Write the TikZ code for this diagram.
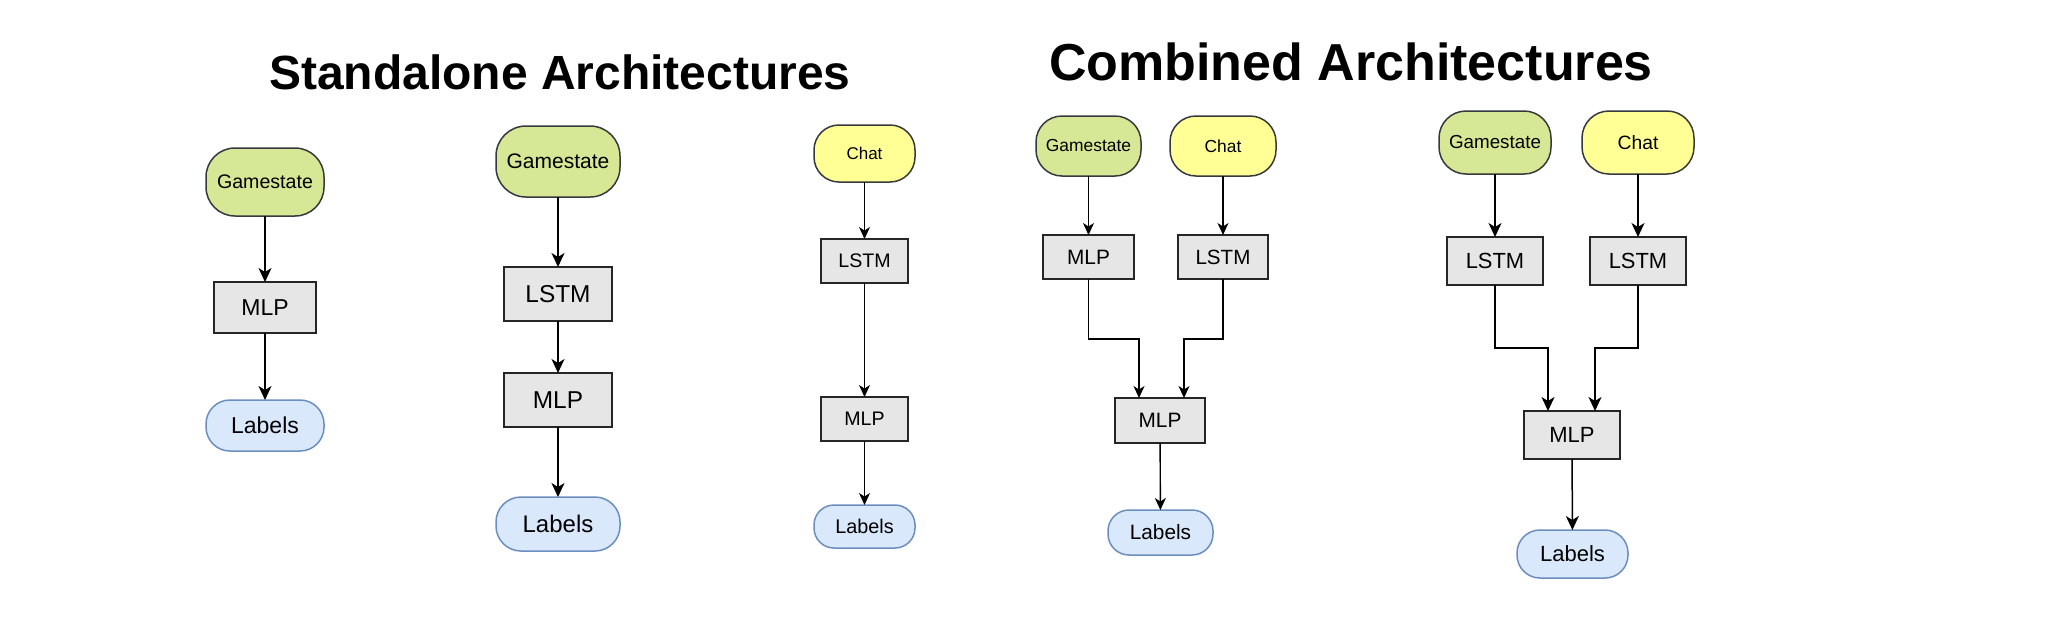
\documentclass[tikz,border=0pt]{standalone}
\usepackage{fontspec}
\setmainfont{Liberation Sans}
\usetikzlibrary{arrows.meta}
\definecolor{gsfill}{RGB}{214,232,150}
\definecolor{chfill}{RGB}{255,255,150}
\definecolor{lbfill}{RGB}{218,232,252}
\definecolor{lbdraw}{RGB}{108,142,191}
\definecolor{bxfill}{RGB}{230,230,230}
\definecolor{dkdraw}{RGB}{54,57,61}
\newcommand\myfs[1]{\fontsize{#1}{#1}\selectfont}
\tikzset{
  base/.style={inner sep=0pt, outer sep=0pt, line width=1.5pt, align=center, text=black},
  gsbox/.style={base, fill=gsfill, draw=dkdraw},
  chbox/.style={base, fill=chfill, draw=dkdraw},
  lbbox/.style={base, fill=lbfill, draw=lbdraw},
  bxbox/.style={base, fill=bxfill, draw=black!85},
  arrL/.style={line width=1.5pt, -{Stealth[length=14pt,width=13pt,inset=4pt]}},
  arrS/.style={line width=1.4pt, -{Stealth[length=12pt,width=11pt,inset=3.5pt]}},
  ttl/.style={inner sep=0pt, anchor=base, font=\bfseries}
}
\begin{document}
\begin{tikzpicture}[x=1pt,y=-1pt]
\useasboundingbox (0,0) rectangle (2064,630);
\fill[white] (0,0) rectangle (2064,630);

% titles
\node[ttl] (t1) at (560,89) {\myfs{48}Standalone Architectures};
\node[ttl] (t2) at (1351,80) {\myfs{52}Combined Architectures};

% Standalone 1
\node[gsbox, minimum width=118pt, minimum height=68pt, rounded corners=29pt] (g1) at (265,182) {\myfs{19.6}Gamestate};
\node[bxbox, minimum width=102pt, minimum height=51pt] (m1) at (265,307.5) {\myfs{23}MLP};
\node[lbbox, minimum width=118pt, minimum height=51pt, rounded corners=24pt] (l1) at (265,425.5) {\myfs{23}Labels};
\draw[arrL] (g1) -- (m1);
\draw[arrL] (m1) -- (l1);

% Standalone 2
\node[gsbox, minimum width=124pt, minimum height=71pt, rounded corners=30pt] (g2) at (558,161.5) {\myfs{21}Gamestate};
\node[bxbox, minimum width=108pt, minimum height=54pt] (s2) at (558,294) {\myfs{24.4}LSTM};
\node[bxbox, minimum width=108pt, minimum height=54pt] (m2) at (558,400) {\myfs{24.4}MLP};
\node[lbbox, minimum width=124pt, minimum height=54pt, rounded corners=25pt] (l2) at (558,524) {\myfs{24}Labels};
\draw[arrL] (g2) -- (s2);
\draw[arrL] (s2) -- (m2);
\draw[arrL] (m2) -- (l2);

% Standalone 3
\node[chbox, minimum width=101pt, minimum height=57pt, rounded corners=25pt] (c3) at (864.5,153.5) {\myfs{17}Chat};
\node[bxbox, minimum width=87pt, minimum height=44pt] (s3) at (864.5,261) {\myfs{19.6}LSTM};
\node[bxbox, minimum width=87pt, minimum height=44pt] (m3) at (864.5,419) {\myfs{19.6}MLP};
\node[lbbox, minimum width=101pt, minimum height=43pt, rounded corners=20pt] (l3) at (864.5,526.5) {\myfs{19.8}Labels};
\draw[arrS] (c3) -- (s3);
\draw[arrS] (s3) -- (m3);
\draw[arrS] (m3) -- (l3);

% Combined A
\node[gsbox, minimum width=105pt, minimum height=60pt, rounded corners=26pt] (gA) at (1088.5,146) {\myfs{17.4}Gamestate};
\node[chbox, minimum width=106pt, minimum height=60pt, rounded corners=26pt] (cA) at (1223,146) {\myfs{17.4}Chat};
\node[bxbox, minimum width=91pt, minimum height=44pt] (mA) at (1088.5,257) {\myfs{20.8}MLP};
\node[bxbox, minimum width=90pt, minimum height=44pt] (sA) at (1223,257) {\myfs{20.6}LSTM};
\node[bxbox, minimum width=90pt, minimum height=45pt] (nA) at (1160,420.5) {\myfs{20.8}MLP};
\node[lbbox, minimum width=105pt, minimum height=45pt, rounded corners=21pt] (lA) at (1160.5,532.5) {\myfs{20.8}Labels};
\coordinate (eA) at (0,339);
\draw[arrS] (gA) -- (mA);
\draw[arrS] (cA) -- (sA);
\draw[arrS] (mA.south) -- (mA.south |- eA) -| ([xshift=-21pt]nA.north);
\draw[arrS] (sA.south) -- (sA.south |- eA) -| ([xshift=24pt]nA.north);
\draw[arrS] (nA) -- (lA);

% Combined B
\node[gsbox, minimum width=112pt, minimum height=63pt, rounded corners=27pt] (gB) at (1495,142.5) {\myfs{18.8}Gamestate};
\node[chbox, minimum width=112pt, minimum height=63pt, rounded corners=27pt] (cB) at (1638,142.5) {\myfs{19.3}Chat};
\node[bxbox, minimum width=96pt, minimum height=48pt] (sB) at (1495,261) {\myfs{21.9}LSTM};
\node[bxbox, minimum width=96pt, minimum height=48pt] (tB) at (1638,261) {\myfs{21.9}LSTM};
\node[bxbox, minimum width=96pt, minimum height=48pt] (mB) at (1572,435) {\myfs{22}MLP};
\node[lbbox, minimum width=111pt, minimum height=48pt, rounded corners=23pt] (lB) at (1572.5,554) {\myfs{22}Labels};
\coordinate (eB) at (0,348);
\draw[arrL] (gB) -- (sB);
\draw[arrL] (cB) -- (tB);
\draw[arrL] (sB.south) -- (sB.south |- eB) -| ([xshift=-24pt]mB.north);
\draw[arrL] (tB.south) -- (tB.south |- eB) -| ([xshift=23pt]mB.north);
\draw[arrL] (mB) -- (lB);
\end{tikzpicture}
\end{document}
